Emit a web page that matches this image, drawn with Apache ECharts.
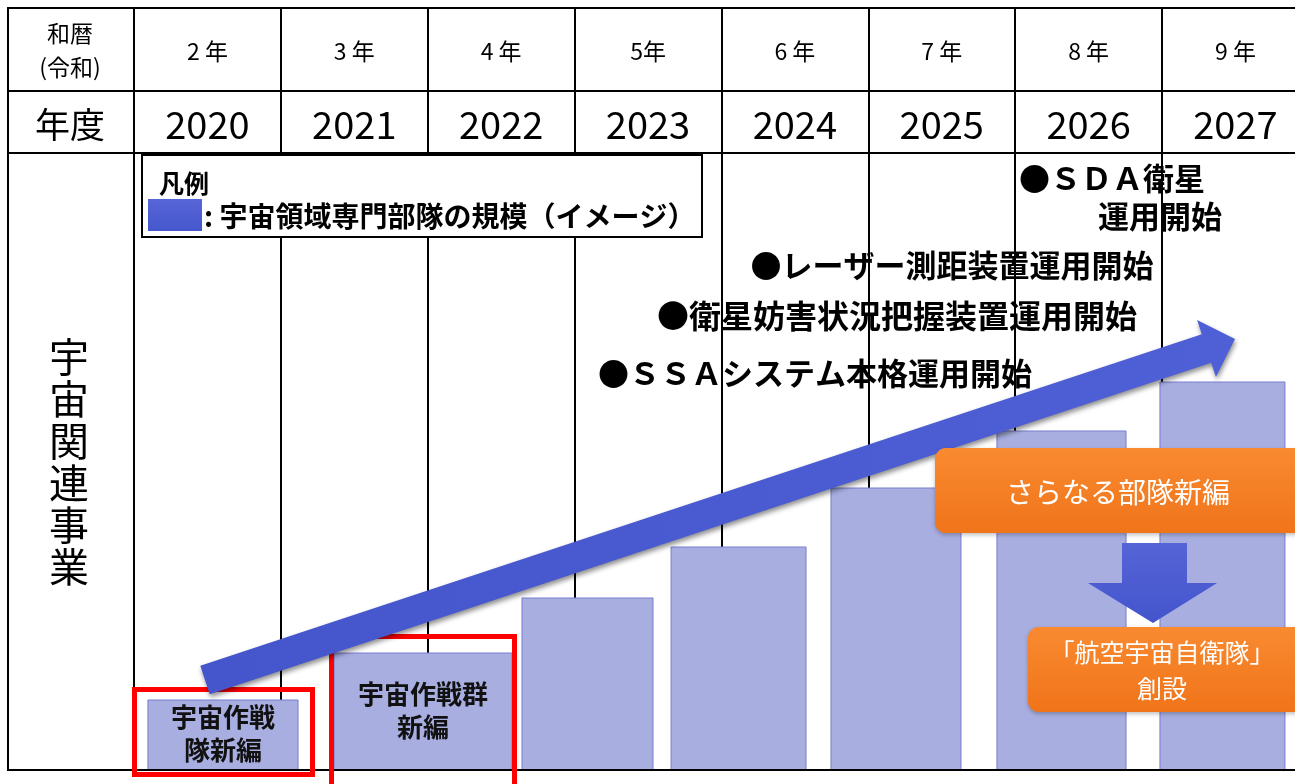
<!DOCTYPE html>
<html><head><meta charset="utf-8">
<script src="https://cdn.jsdelivr.net/npm/echarts@6/dist/echarts.min.js"></script>
<style>html,body{margin:0;padding:0;background:#fff;}#c{width:1295px;height:784px;}</style>
</head><body><div id="c"></div>
<script>
// ---- data ----
const fiscalYears = ['2020','2021','2022','2023','2024','2025','2026','2027'];
const reiwaYears = ['2 年','3 年','4 年','5年','6 年','7 年','8 年','9 年'];
// bar extents in fiscal-year column units (2020 column = [0,1])
const barFrom = [0.095, 1.362, 2.642, 3.657, 4.746, 5.876, 6.986];
const barTo   = [1.117, 2.574, 3.534, 4.576, 5.631, 6.755, 7.837];
// unit scale (image) values
const barScale = [70, 117, 172, 223, 282, 339, 388];
const barLabels = ['宇宙作戦\n隊新編', '宇宙作戦群\n新編', '', '', '', '', ''];
const milestones = ['●ＳＳＡシステム本格運用開始', '●衛星妨害状況把握装置運用開始', '●レーザー測距装置運用開始', '●ＳＤＡ衛星', '運用開始'];
const legendTitle = '凡例';
const legendText = ': 宇宙領域専門部隊の規模（イメージ）';
const rowHeaders = ['和暦', '(令和)', '年度'];
const sideTitle = '宇宙関連事業';
const boxTexts = ['さらなる部隊新編', '「航空宇宙自衛隊」\n創設'];

const FONT = "'Noto Sans CJK JP', 'Noto Sans', sans-serif";
const chart = echarts.init(document.getElementById('c'), null, {renderer: 'canvas'});

const option = {
  animation: false,
  backgroundColor: '#fff',
  grid: {left: 134, top: 8, width: 8 * 146.86, bottom: 14, containLabel: false, outerBoundsMode: 'none'},
  xAxis: {
    type: 'value', min: 0, max: 8, interval: 1,
    axisLine: {show: false}, axisTick: {show: false}, axisLabel: {show: false},
    splitLine: {show: true, lineStyle: {color: '#000', width: 2}}
  },
  yAxis: {
    type: 'value', min: 0, max: 762,
    axisLine: {show: false}, axisTick: {show: false}, axisLabel: {show: false},
    splitLine: {show: false}
  },
  series: [{
    type: 'custom',
    z: 5,
    encode: {x: [0, 1], y: 2},
    data: barFrom.map((f, i) => [f, barTo[i], barScale[i]]),
    renderItem: function (params, api) {
      const p0 = api.coord([api.value(0), api.value(2)]);
      const p1 = api.coord([api.value(1), 0]);
      const children = [{
        type: 'rect',
        shape: {x: p0[0], y: p0[1], width: p1[0] - p0[0], height: p1[1] - p0[1]},
        style: {fill: '#a8aee0', stroke: '#767ccf', lineWidth: 1}
      }];
      const lbl = barLabels[params.dataIndex];
      if (lbl) {
        children.push({
          type: 'text', x: (p0[0] + p1[0]) / 2, y: (p0[1] + p1[1]) / 2 - 1,
          style: {text: lbl, fill: '#111', fontSize: 26, fontWeight: 'bold', fontFamily: FONT,
                  align: 'center', verticalAlign: 'middle', textAlign: 'center', textVerticalAlign: 'middle', lineHeight: 33}
        });
      }
      return {type: 'group', children};
    }
  }]
};
chart.setOption(option);

function txt(text, x, y, size, opts) {
  opts = opts || {};
  return {
    type: 'text', x: x, y: y, z: opts.z || 20,
    style: {
      text: text, fill: opts.fill || '#000', fontSize: size, fontWeight: opts.bold ? 'bold' : 'normal',
      fontFamily: FONT, align: opts.align || 'center', textAlign: opts.align || 'center',
      verticalAlign: 'middle', textVerticalAlign: 'middle', lineHeight: opts.lh || size * 1.2
    }
  };
}
function line(x1, y1, x2, y2, z) {
  return {type: 'line', z: z || 10, shape: {x1, y1, x2, y2}, style: {stroke: '#000', lineWidth: 2}};
}

const g = [];
// table structure
g.push(line(8, 8, 1295, 8));
g.push(line(8, 91, 1295, 91));
g.push(line(8, 153, 1295, 153));
g.push(line(8, 7, 8, 771));
g.push(line(8, 770, 1295, 770, 40));

// header labels at column centres from the axis scale
fiscalYears.forEach((y, i) => {
  const cx = chart.convertToPixel({xAxisIndex: 0}, i + 0.5);
  g.push(txt(reiwaYears[i], cx, 51, 23));
  g.push(txt(y, cx, 125, 38));
});
g.push(txt(rowHeaders[0], 70, 33, 23));
g.push(txt(rowHeaders[1], 70, 67, 23));
g.push(txt(rowHeaders[2], 70, 125, 35));
g.push(txt(sideTitle.split('').join('\n'), 69, 462, 40, {lh: 42}));

// legend
g.push({type: 'rect', z: 30, shape: {x: 142, y: 155, width: 560, height: 82}, style: {fill: '#fff', stroke: '#000', lineWidth: 2}});
g.push(txt(legendTitle, 159, 183, 25, {bold: true, align: 'left', z: 31}));
g.push({type: 'rect', z: 31, shape: {x: 148, y: 199, width: 54, height: 32},
  style: {fill: new echarts.graphic.LinearGradient(0, 0, 0, 1, [{offset: 0, color: '#5666d8'}, {offset: 1, color: '#4656cc'}])}});
g.push(txt(legendText, 204, 216, 28, {bold: true, align: 'left', z: 31}));

// milestones
g.push(txt(milestones[0], 815, 373, 31, {bold: true}));
g.push(txt(milestones[1], 897, 316, 32, {bold: true}));
g.push(txt(milestones[2], 952, 265, 31, {bold: true}));
g.push(txt(milestones[3], 1112, 178, 31, {bold: true}));
g.push(txt(milestones[4], 1160, 216, 31, {bold: true}));

// red highlight frames
g.push({type: 'rect', z: 45, shape: {x: 134.5, y: 689.5, width: 178, height: 85}, style: {fill: 'none', stroke: '#ff0000', lineWidth: 5}});
g.push({type: 'rect', z: 45, shape: {x: 331.5, y: 636.5, width: 183, height: 200}, style: {fill: 'none', stroke: '#ff0000', lineWidth: 5}});

// growth arrow
(function () {
  const T = [205, 680], P = [1235, 339];
  const dx = P[0] - T[0], dy = P[1] - T[1], L = Math.hypot(dx, dy);
  const u = [dx / L, dy / L], n = [-u[1], u[0]];
  const hw = 15, hh = 30, hl = 30;
  const N = [P[0] - u[0] * hl, P[1] - u[1] * hl];
  const pt = (b, k) => [b[0] + n[0] * k, b[1] + n[1] * k];
  const pts = [pt(T, -hw), pt(N, -hw), pt(N, -hh), P, pt(N, hh), pt(N, hw), pt(T, hw)];
  g.push({type: 'polygon', z: 50, shape: {points: pts},
    style: {fill: new echarts.graphic.LinearGradient(0, 0, 1, 0, [{offset: 0, color: '#4555cc'}, {offset: 1, color: '#4f60d6'}]),
            shadowBlur: 5, shadowColor: 'rgba(0,0,0,0.45)', shadowOffsetX: 1, shadowOffsetY: 3}});
})();

// orange boxes
const orange = () => new echarts.graphic.LinearGradient(0, 0, 0, 1, [{offset: 0, color: '#f98a30'}, {offset: 1, color: '#f0741a'}]);
g.push({type: 'rect', z: 60, shape: {x: 935, y: 448, width: 400, height: 85, r: 11},
  style: {fill: orange(), shadowBlur: 4, shadowColor: 'rgba(0,0,0,0.25)', shadowOffsetY: 2}});
g.push(txt(boxTexts[0], 1118, 492, 28, {fill: '#fff', z: 61}));
g.push({type: 'rect', z: 60, shape: {x: 1028, y: 627, width: 320, height: 85, r: 11},
  style: {fill: orange(), shadowBlur: 4, shadowColor: 'rgba(0,0,0,0.25)', shadowOffsetY: 2}});
g.push(txt(boxTexts[1], 1162, 670, 25, {fill: '#fff', z: 61, lh: 36}));

// down arrow
g.push({type: 'polygon', z: 60, shape: {points: [[1122, 543], [1187, 543], [1187, 583], [1217, 583], [1153, 623], [1088, 583], [1122, 583]]},
  style: {fill: new echarts.graphic.LinearGradient(0, 0, 0, 1, [{offset: 0, color: '#5565d6'}, {offset: 1, color: '#4454cc'}])}});

chart.setOption({graphic: {elements: g}});
</script>
</body></html>
